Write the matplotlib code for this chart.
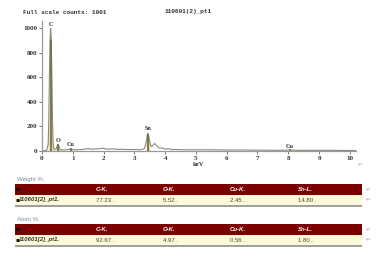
import numpy as np
import matplotlib
matplotlib.use("Agg")
import matplotlib.pyplot as plt
from matplotlib.patches import Rectangle

# ---- spectrum data ----
energy = [0.0, 0.1, 0.15, 0.2, 0.22, 0.24, 0.26, 0.28, 0.30, 0.32, 0.34, 0.36, 0.38,
          0.42, 0.46, 0.49, 0.52, 0.55, 0.58, 0.62, 0.70, 0.80, 0.88, 0.93, 0.98,
          1.1, 1.3, 1.5, 1.6, 1.8, 2.0, 2.1, 2.3, 2.4, 2.6, 2.8, 3.0, 3.2, 3.33,
          3.38, 3.42, 3.44, 3.47, 3.51, 3.55, 3.60, 3.66, 3.72, 3.80, 3.90, 4.0,
          4.1, 4.2, 4.4, 4.6, 5.0, 5.5, 6.0, 6.5, 7.0, 7.5, 7.9, 8.05, 8.2, 8.5,
          9.0, 9.5, 10.0, 10.2]
counts = [0, 3, 5, 50, 250, 600, 900, 1000, 920, 600, 250, 70, 22,
          12, 18, 40, 57, 38, 15, 10, 8, 10, 14, 17, 12,
          10, 12, 20, 15, 18, 22, 15, 18, 14, 14, 12, 12, 10, 20,
          70, 130, 147, 120, 60, 38, 45, 62, 45, 25, 25, 15,
          20, 12, 12, 10, 10, 10, 8, 8, 7, 6, 6, 9, 6, 5,
          5, 5, 4, 4]
peak_labels = ["C", "O", "Cu", "Sn", "Cu"]
peak_energy = [0.28, 0.52, 0.93, 3.44, 8.05]
peak_label_y = [1030, 85, 50, 180, 38]
peak_windows = [(0.18, 0.38), (0.45, 0.59), (0.88, 0.98), (3.34, 3.53), (7.95, 8.15)]
xticks = [0, 1, 2, 3, 4, 5, 6, 7, 8, 9, 10]
yticks = [0, 200, 400, 600, 800, 1000]

# ---- tables ----
columns = ["C-K", "O-K", "Cu-K", "Sn-L"]
sample = "110601[2]_pt1"
weight_pct = ["77.23", "5.52", "2.45", "14.80"]
atom_pct = ["92.67", "4.97", "0.56", "1.80"]

W, H = 376, 260
fig = plt.figure(figsize=(W / 100, H / 100), dpi=100)
fig.patch.set_facecolor("white")

# spectrum axes
left, right, top, bottom = 42, 356, 21, 151
ax = fig.add_axes([left / W, 1 - bottom / H, (right - left) / W, (bottom - top) / H])
e = np.array(energy)
c = np.array(counts)
for lo, hi in peak_windows:
    m = (e >= lo) & (e <= hi)
    ax.fill_between(e[m], 0, c[m], color="#e4e0aa", lw=0, zorder=1)
ax.plot(e, c, color="#8a8a80", lw=0.8, zorder=2)
for pe in peak_energy:
    h = np.interp(pe, e, c)
    ax.plot([pe, pe], [0, h * 0.9], color="#6e6a40", lw=1.2, zorder=3)
for lab, pe, py in zip(peak_labels, peak_energy, peak_label_y):
    ax.text(pe, py, lab, ha="center", va="center", fontsize=4.5, family="Liberation Serif",
            fontweight="bold", color="#333333")
ax.set_xlim(0, 10.2)
ax.set_ylim(0, 1060)
ax.set_xticks(xticks)
ax.set_yticks(yticks)
ax.set_xticklabels([str(t) for t in xticks], fontsize=5, family="Liberation Serif", fontweight="bold", color="#333333")
ax.set_yticklabels([str(t) for t in yticks], fontsize=5, family="Liberation Serif", fontweight="bold", color="#333333")
ax.tick_params(length=2, width=0.6, colors="#666666", pad=1.5, labelcolor="#333333")
for s in ["top", "right"]:
    ax.spines[s].set_visible(False)
for s in ["left", "bottom"]:
    ax.spines[s].set_color("#999999")
    ax.spines[s].set_linewidth(0.9)
ax.patch.set_alpha(0)

# overlay in pixel coordinates
ov = fig.add_axes([0, 0, 1, 1])
ov.set_xlim(0, W)
ov.set_ylim(H, 0)
ov.axis("off")
ov.patch.set_alpha(0)

ov.text(23, 12, "Full scale counts: 1001", fontsize=4.4, family="Liberation Mono",
        fontweight="bold", color="#333333", va="center")
ov.text(165, 12, "110601(2)_pt1", fontsize=4.4, family="Liberation Mono",
        fontweight="bold", color="#333333", va="center")
ov.text(199, 164, "keV", fontsize=4.8, family="Liberation Serif", fontweight="bold",
        color="#333333", ha="center", va="center")
ov.text(360, 165, "\u21b5", fontsize=4, color="#aaaaaa", ha="center", va="center")

xcols = [96, 163, 230, 298]

def draw_table(title, ytitle, yh, vals):
    ov.text(17, ytitle, title, fontsize=4.3, family="Liberation Sans", color="#7a8a96", va="center")
    ov.add_patch(Rectangle((15, yh), 347, 11, facecolor="#7b0000", edgecolor="none"))
    ov.add_patch(Rectangle((15, yh + 11), 347, 10, facecolor="#fbfbd8", edgecolor="none"))
    ov.add_patch(Rectangle((15, yh + 21), 347, 2, facecolor="#a0a0a0", edgecolor="none"))
    ov.text(16, yh + 5.5, "\u25aa .", fontsize=4.3, color="#111111", va="center")
    for x, col in zip(xcols, columns):
        ov.text(x, yh + 5.5, col + ".", fontsize=4.3, family="Liberation Sans", color="white",
                fontweight="bold", style="italic", va="center")
    ov.text(15.5, yh + 16, "\u25aa", fontsize=4.3, color="#111111", va="center")
    ov.text(19, yh + 16, sample + ".", fontsize=4.3, family="Liberation Sans", color="#333333",
            fontweight="bold", style="italic", va="center")
    for x, v in zip(xcols, vals):
        ov.text(x, yh + 16, v + " .", fontsize=4.3, family="Liberation Sans", color="#444444", va="center")
    ov.text(368, yh + 5.5, "\u21b5", fontsize=4, color="#aaaaaa", ha="center", va="center")
    ov.text(368, yh + 16, "\u21b5", fontsize=4, color="#aaaaaa", ha="center", va="center")

draw_table("Weight %.", 180, 184, weight_pct)
draw_table("Atom %.", 219.5, 224, atom_pct)

fig.savefig("out.png", dpi=100, facecolor="white")
